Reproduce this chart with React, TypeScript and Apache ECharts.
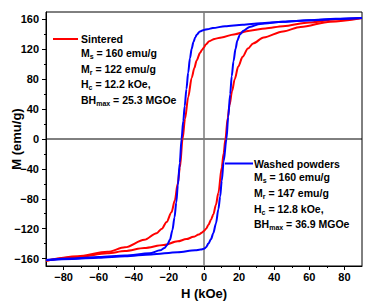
import React, { useEffect, useRef } from 'react';
import * as echarts from 'echarts';

const FONT = '"Liberation Sans", Arial, Helvetica, sans-serif';

const xMajor = [-80, -60, -40, -20, 0, 20, 40, 60, 80];
const xMinor = [-70, -50, -30, -10, 10, 30, 50, 70];
const yMajor = [-160, -120, -80, -40, 0, 40, 80, 120, 160];
const yMinor = [-140, -100, -60, -20, 20, 60, 100, 140];

const xTitle = 'H (kOe)';
const yTitle = 'M (emu/g)';

// Sintered magnet: upper (field decreasing) and lower (field increasing) branches, H in kOe, M in emu/g
const redUpper: number[][] = [
  [-90, -163], [-72, -157], [-55, -151], [-45, -145], [-34, -135], [-27, -126], [-24, -120],
  [-21.3, -111], [-18.5, -98], [-16.6, -82], [-15, -60], [-13.7, -38], [-12.2, 0], [-10.8, 27],
  [-9, 56], [-7, 82], [-5.5, 95], [-4.2, 105], [-2.3, 115], [-1.2, 119], [0, 122.5], [1, 126.5],
  [3, 131], [6, 134], [10, 136], [17, 140], [26, 145], [35, 148], [45, 151], [60, 156], [75, 160], [90, 162],
];
const redLower: number[][] = [
  [-90, -163], [-72, -158], [-55, -153], [-45, -150], [-34, -146], [-23, -142], [-15, -137],
  [-10, -134], [-6, -131], [-3, -128], [-1, -125], [0, -123], [1.2, -120], [2.5, -115], [4, -108],
  [5.3, -101], [6.8, -88], [8.2, -72], [10.1, -38], [11.2, -19], [12.2, 0], [13.5, 28], [14.5, 45],
  [16, 64], [17.5, 80], [19.5, 97], [22, 110], [25, 121], [28, 128], [34, 136], [45, 144], [55, 150],
  [72, 157], [90, 162],
];
// Washed powders
const blueUpper: number[][] = [
  [-90, -162], [-75, -160], [-60, -158], [-45, -156], [-31, -153], [-25, -149], [-22.5, -146],
  [-21, -142], [-19.4, -135], [-18, -122], [-16.8, -105], [-15.8, -85], [-14.9, -62], [-13.8, -32],
  [-12.8, 0], [-11.8, 24], [-11, 44], [-10, 67], [-9, 89], [-8, 108], [-7, 121], [-6, 130], [-5, 136],
  [-4, 140], [-2.3, 144], [0, 146], [2, 147], [5, 148.5], [12, 151], [22, 153], [32, 155], [45, 157],
  [60, 159], [75, 161], [90, 162],
];
const blueLower: number[][] = [
  [-90, -162], [-75, -160.5], [-60, -159], [-45, -157], [-30, -154.5], [-15, -151.5], [-5, -149],
  [-2, -148], [0, -147], [1.2, -145], [2.5, -140], [4, -134], [5.3, -126], [6.8, -113], [8.2, -94],
  [9.2, -77], [10.1, -56], [11.2, -30], [12.8, 0], [13.8, 30], [14.9, 60], [15.8, 84], [16.8, 104],
  [18, 121], [19, 132], [20.5, 140], [22.5, 145], [26, 150], [32, 154], [45, 157], [60, 159],
  [75, 160.5], [90, 162],
];

const zeroH: number[][] = [[-90, 0], [90, 0]];
const zeroV: number[][] = [[0, -170], [0, 170]];

const sinteredLines = [
  '{b|Sintered}',
  '{b|M}{s|s}{b| = 160 emu/g}',
  '{b|M}{s|r}{b| = 122 emu/g}',
  '{b|H}{s|c}{b| = 12.2 kOe,}',
  '{b|BH}{s|max}{b| = 25.3 MGOe}',
];
const washedLines = [
  '{b|Washed powders}',
  '{b|M}{s|s}{b| = 160 emu/g}',
  '{b|M}{s|r}{b| = 147 emu/g}',
  '{b|H}{s|c}{b| = 12.8 kOe,}',
  '{b|BH}{s|max}{b| = 36.9 MGOe}',
];
const rowOffsets = [0, 13.5, 29.5, 45, 60.5];

const RED = '#ff0000';
const BLUE = '#0000ff';

const fmt = (v: number) => (v < 0 ? '\u2212' + Math.abs(v) : String(v));

function legendBlock(lines: string[], color: string, lineX1: number, lineX2: number, textX: number, y0: number) {
  const rich = {
    b: { fontSize: 10.5, fontWeight: 'bold', fontFamily: FONT, color: '#000', lineHeight: 14 },
    s: { fontSize: 7, fontWeight: 'bold', fontFamily: FONT, color: '#000', lineHeight: 8, verticalAlign: 'bottom' },
  };
  const els: any[] = [
    {
      type: 'line',
      shape: { x1: lineX1, y1: y0, x2: lineX2, y2: y0 },
      style: { stroke: color, lineWidth: 2 },
    },
  ];
  lines.forEach((t, i) => {
    els.push({
      type: 'text',
      x: textX,
      y: y0 + rowOffsets[i],
      style: { text: t, rich, align: 'left', verticalAlign: 'middle' },
    });
  });
  return els;
}

export default function App() {
  const ref = useRef<HTMLDivElement>(null);
  useEffect(() => {
    const chart = echarts.init(ref.current!, null, { renderer: 'svg' });
    const lineSeries = (name: string, data: number[][], color: string) => ({
      name,
      type: 'line',
      data,
      symbol: 'none',
      smooth: 0.3,
      smoothMonotone: 'x',
      lineStyle: { color, width: 2 },
      silent: true,
      z: 3,
    });
    chart.setOption({
      animation: false,
      backgroundColor: '#fff',
      grid: { left: 46, right: 3, top: 12, bottom: 38, show: true, borderColor: '#000', borderWidth: 1, backgroundColor: 'transparent' },
      xAxis: [
        {
          type: 'value', min: -90, max: 90, position: 'bottom',
          axisLine: { show: true, onZero: false, lineStyle: { color: '#000', width: 1 } },
          axisTick: { show: true, inside: false, length: 4, customValues: xMajor, lineStyle: { color: '#000', width: 1 } },
          axisLabel: { show: true, customValues: xMajor, formatter: fmt, margin: 5, color: '#000', fontSize: 11, fontWeight: 'bold', fontFamily: FONT },
          splitLine: { show: false },
        },
        {
          type: 'value', min: -90, max: 90, position: 'bottom',
          axisLine: { show: false, onZero: false },
          axisTick: { show: true, inside: false, length: 2, customValues: xMinor, lineStyle: { color: '#000', width: 1 } },
          axisLabel: { show: false },
          splitLine: { show: false },
        },
      ],
      yAxis: [
        {
          type: 'value', min: -170, max: 170, position: 'left',
          axisLine: { show: true, onZero: false, lineStyle: { color: '#000', width: 1 } },
          axisTick: { show: true, inside: false, length: 4, customValues: yMajor, lineStyle: { color: '#000', width: 1 } },
          axisLabel: { show: true, customValues: yMajor, formatter: fmt, margin: 7, color: '#000', fontSize: 11, fontWeight: 'bold', fontFamily: FONT },
          splitLine: { show: false },
        },
        {
          type: 'value', min: -170, max: 170, position: 'left',
          axisLine: { show: false, onZero: false },
          axisTick: { show: true, inside: false, length: 2, customValues: yMinor, lineStyle: { color: '#000', width: 1 } },
          axisLabel: { show: false },
          splitLine: { show: false },
        },
      ],
      series: [
        { type: 'line', data: zeroH, symbol: 'none', lineStyle: { color: '#000', width: 1 }, silent: true, z: 1 },
        { type: 'line', data: zeroV, symbol: 'none', lineStyle: { color: '#7a7a7a', width: 1.5 }, silent: true, z: 1 },
        lineSeries('Sintered', redUpper, RED),
        lineSeries('Sintered', redLower, RED),
        lineSeries('Washed powders', blueUpper, BLUE),
        lineSeries('Washed powders', blueLower, BLUE),
      ],
      graphic: [
        {
          type: 'text', x: 16, y: 139, rotation: Math.PI / 2,
          style: { text: yTitle, fontSize: 13, fontWeight: 'bold', fontFamily: FONT, fill: '#000', align: 'center', verticalAlign: 'middle' },
        },
        {
          type: 'text', x: 204, y: 293,
          style: { text: xTitle, fontSize: 13, fontWeight: 'bold', fontFamily: FONT, fill: '#000', align: 'center', verticalAlign: 'middle' },
        },
        ...legendBlock(sinteredLines, RED, 53, 78, 81, 39),
        ...legendBlock(washedLines, BLUE, 225, 253, 254, 163.5),
      ],
    });
    return () => chart.dispose();
  }, []);
  return <div ref={ref} style={{ position: 'fixed', left: 0, top: 0, width: 365, height: 304, background: '#fff' }} />;
}
